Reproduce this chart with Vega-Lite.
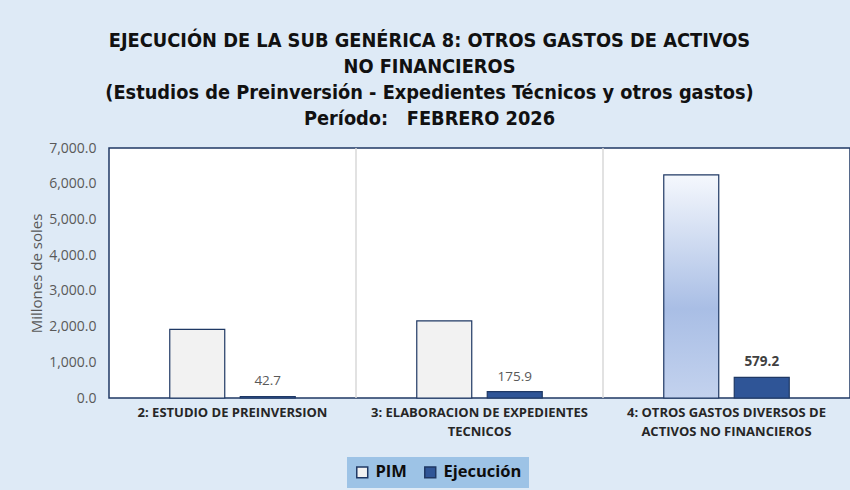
{
  "$schema": "https://vega.github.io/schema/vega-lite/v6.json",
  "width": 741,
  "height": 250,
  "autosize": {"type": "none"},
  "padding": {"left": 109, "top": 148, "right": 0, "bottom": 92},
  "background": "#DEEAF6",
  "config": {
    "view": {"fill": "white", "stroke": "#1F3864", "strokeWidth": 1.5},
    "font": "Open Sans"
  },
  "title": {
    "text": ["EJECUCIÓN DE LA SUB GENÉRICA 8: OTROS GASTOS DE ACTIVOS", "NO FINANCIEROS", "(Estudios de Preinversión - Expedientes Técnicos y otros gastos)", "Período:\u00a0\u00a0 FEBRERO 2026"],
    "font": "'DejaVu Sans Condensed', 'Open Sans', sans-serif",
    "fontSize": 19.8,
    "fontWeight": "bold",
    "color": "#111111",
    "lineHeight": 26,
    "anchor": "middle",
    "frame": "group",
    "dx": -50,
    "offset": 12
  },
  "data": {
    "values": [
      {"cat": "2: ESTUDIO DE PREINVERSION", "serie": "PIM", "valor": 1920},
      {"cat": "2: ESTUDIO DE PREINVERSION", "serie": "Ejecución", "valor": 42.7},
      {"cat": "3: ELABORACION DE EXPEDIENTES TECNICOS", "serie": "PIM", "valor": 2160},
      {"cat": "3: ELABORACION DE EXPEDIENTES TECNICOS", "serie": "Ejecución", "valor": 175.9},
      {"cat": "4: OTROS GASTOS DIVERSOS DE ACTIVOS NO FINANCIEROS", "serie": "PIM", "valor": 6250},
      {"cat": "4: OTROS GASTOS DIVERSOS DE ACTIVOS NO FINANCIEROS", "serie": "Ejecución", "valor": 579.2}
    ]
  },
  "encoding": {
    "x": {
      "field": "cat", "type": "nominal",
      "scale": {"domain": ["2: ESTUDIO DE PREINVERSION", "3: ELABORACION DE EXPEDIENTES TECNICOS", "4: OTROS GASTOS DIVERSOS DE ACTIVOS NO FINANCIEROS"], "paddingInner": 0, "paddingOuter": 0},
      "axis": {
        "title": null, "labelAngle": 0, "ticks": false, "domain": false, "grid": false,
        "labelFontWeight": "bold", "labelFontSize": 13, "labelColor": "#262626",
        "labelPadding": 8, "labelLineHeight": 19, "labelLimit": 300,
        "labelExpr": "datum.value == '3: ELABORACION DE EXPEDIENTES TECNICOS' ? ['3: ELABORACION DE EXPEDIENTES', 'TECNICOS'] : datum.value == '4: OTROS GASTOS DIVERSOS DE ACTIVOS NO FINANCIEROS' ? ['4: OTROS GASTOS DIVERSOS DE', 'ACTIVOS NO FINANCIEROS'] : datum.value"
      }
    },
    "y": {
      "field": "valor", "type": "quantitative",
      "scale": {"domain": [0, 7000], "nice": false},
      "axis": {
        "values": [0, 1000, 2000, 3000, 4000, 5000, 6000, 7000],
        "labelOverlap": false,
        "format": ",.1f", "grid": false, "ticks": false, "domain": false,
        "labelColor": "#595959", "labelFontSize": 14, "labelPadding": 13,
        "title": "Millones de soles", "titleColor": "#595959", "titleFontWeight": "normal",
        "titleFontSize": 15, "titlePadding": 4
      }
    }
  },
  "layer": [
    {
      "transform": [{"filter": "datum.serie == 'PIM' && datum.cat != '2: ESTUDIO DE PREINVERSION'"}],
      "mark": {"type": "rule", "color": "#D9D9D9", "strokeWidth": 1.5},
      "encoding": {
        "x": {"field": "cat", "type": "nominal", "bandPosition": 0},
        "y": null
      }
    },
    {
      "mark": {"type": "bar", "stroke": "#1F3864", "strokeWidth": 1.2},
      "encoding": {
        "xOffset": {
          "field": "serie", "type": "nominal",
          "scale": {"domain": ["PIM", "Ejecución"], "paddingInner": 0.22, "paddingOuter": 0.862}
        },
        "fill": {
          "condition": {
            "test": "datum.serie == 'PIM' && datum.cat == '4: OTROS GASTOS DIVERSOS DE ACTIVOS NO FINANCIEROS'",
            "value": {"gradient": "linear", "x1": 0, "y1": 0, "x2": 0, "y2": 1,
              "stops": [{"offset": 0, "color": "#F5F8FD"}, {"offset": 0.6, "color": "#A9BEE5"}, {"offset": 1, "color": "#C3D2EE"}]}
          },
          "field": "serie", "type": "nominal",
          "scale": {"domain": ["PIM", "Ejecución"], "range": ["#F2F2F2", "#2F5597"]},
          "legend": {
            "title": null, "orient": "none", "legendX": 238, "legendY": 309,
            "direction": "horizontal", "fillColor": "#9DC3E6", "padding": 7,
            "symbolType": "square", "symbolSize": 120, "symbolStrokeColor": "#1F3864",
            "symbolStrokeWidth": 1.5, "labelFontSize": 16.5, "labelFontWeight": "bold",
            "labelColor": "#0D0D0D", "columnPadding": 14, "labelOffset": 5
          }
        }
      }
    },
    {
      "transform": [{"filter": "datum.serie == 'Ejecución' && datum.cat != '4: OTROS GASTOS DIVERSOS DE ACTIVOS NO FINANCIEROS'"}],
      "mark": {"type": "text", "dy": -15, "baseline": "middle", "fontSize": 13.5, "color": "#595959"},
      "encoding": {
        "xOffset": {"field": "serie", "type": "nominal"},
        "text": {"field": "valor", "type": "quantitative", "format": ".1f"}
      }
    },
    {
      "transform": [{"filter": "datum.serie == 'Ejecución' && datum.cat == '4: OTROS GASTOS DIVERSOS DE ACTIVOS NO FINANCIEROS'"}],
      "mark": {"type": "text", "dy": -15, "baseline": "middle", "fontSize": 13.5, "fontWeight": "bold", "color": "#404040"},
      "encoding": {
        "xOffset": {"field": "serie", "type": "nominal"},
        "text": {"field": "valor", "type": "quantitative", "format": ".1f"}
      }
    }
  ]
}
